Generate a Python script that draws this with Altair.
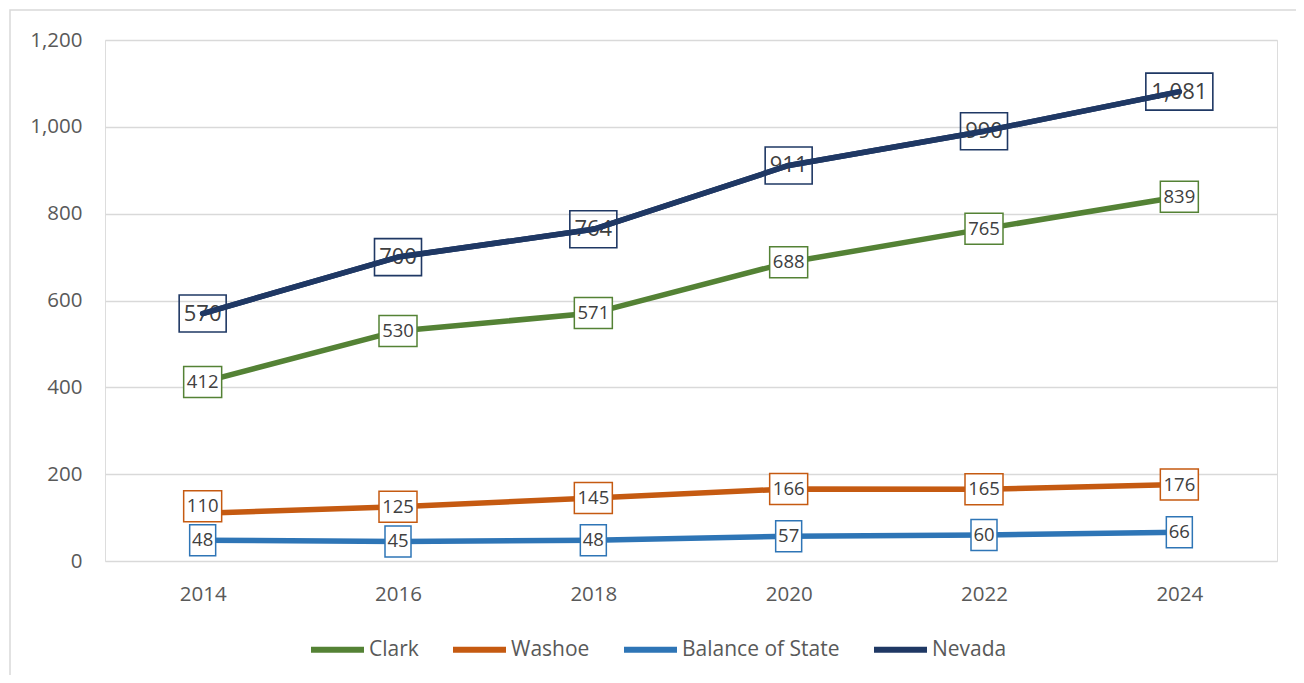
import altair as alt
import pandas as pd

years = ["2014", "2016", "2018", "2020", "2022", "2024"]
series_names = ["Clark", "Washoe", "Balance of State", "Nevada"]
clark = [412, 530, 571, 688, 765, 839]
washoe = [110, 125, 145, 166, 165, 176]
balance = [48, 45, 48, 57, 60, 66]
nevada = [570, 700, 764, 911, 990, 1081]
colors = ["#548235", "#C55A11", "#2E75B6", "#1F3864"]

rows = []
for name, vals in zip(series_names, [clark, washoe, balance, nevada]):
    for y, v in zip(years, vals):
        rows.append({"year": y, "series": name, "value": v})
df = pd.DataFrame(rows)

FONT = "Open Sans"
W, H = 1172, 521

x_enc = alt.X("year:O", scale=alt.Scale(type="point", padding=0.5),
              axis=alt.Axis(title=None, domain=False, ticks=False, labelAngle=0,
                            labelFont=FONT, labelFontSize=20.5, labelColor="#595959",
                            labelPadding=23, grid=False))
y_scale = alt.Scale(domain=[0, 1200], nice=False)
y_axis = alt.Axis(title=None, domain=False, ticks=False,
                  values=[0, 200, 400, 600, 800, 1000, 1200], format=",.0f",
                  labelFont=FONT, labelFontSize=20.5, labelColor="#595959",
                  labelPadding=23, gridColor="#D9D9D9", gridWidth=1.3)
y_enc = alt.Y("value:Q", scale=y_scale, axis=y_axis)
y_lab = alt.Y("ylab:Q", scale=y_scale, axis=y_axis)

color_scale = alt.Scale(domain=series_names, range=colors)

base = alt.Chart(df)

border = alt.Chart(pd.DataFrame({"a": [0]})).mark_rect(
    fill=None, stroke="#D9D9D9", strokeWidth=1.5
).encode(x=alt.value(-95), x2=alt.value(1240), y=alt.value(-30), y2=alt.value(700))

lines = base.mark_line(strokeWidth=5.5, strokeCap="round", strokeJoin="round").encode(
    x=x_enc, y=y_enc,
    color=alt.Color("series:N", scale=color_scale, sort=series_names,
                    legend=alt.Legend(title=None, orient="none", legendX=203, legendY=580,
                                      direction="horizontal", columns=4, columnPadding=22,
                                      symbolType="stroke", symbolSize=2809,
                                      symbolStrokeWidth=6, labelOffset=2,
                                      labelFont=FONT, labelFontSize=21,
                                      labelColor="#595959")),
    order=alt.Order("year:O"),
)

# Excel nudged the 2014 Washoe label up to clear the Balance of State label
small = base.transform_filter("datum.series != 'Nevada'").transform_calculate(
    lab="format(datum.value, ',')",
    ylab="datum.series == 'Washoe' && datum.year == '2014' ? datum.value + 16 : datum.value",
).transform_calculate(
    box="length(datum.lab) <= 2 ? 'M-13,-15.5H13V15.5H-13Z' : 'M-19,-15.5H19V15.5H-19Z'"
)

small_boxes = small.mark_point(filled=True, fill="white", strokeWidth=1.5, opacity=1, size=4).encode(
    x=x_enc, y=y_lab,
    shape=alt.Shape("box:N", scale=None),
    stroke=alt.Stroke("series:N", scale=color_scale, legend=None),
)
small_text = small.mark_text(font=FONT, fontSize=18.5, color="#404040", baseline="middle", align="center").encode(
    x=x_enc, y=y_lab, text="lab:N"
)

nev = base.transform_filter("datum.series == 'Nevada'").transform_calculate(
    lab="format(datum.value, ',')"
).transform_calculate(
    box="length(datum.lab) <= 3 ? 'M-23.5,-18.5H23.5V18.5H-23.5Z' : 'M-33.5,-18.5H33.5V18.5H-33.5Z'"
)
nev_boxes = nev.mark_point(filled=False, strokeWidth=1.6, opacity=1, size=4).encode(
    x=x_enc, y=y_enc,
    shape=alt.Shape("box:N", scale=None),
    stroke=alt.value("#1F3864"),
)
nev_text = nev.mark_text(font=FONT, fontSize=22, color="#404040", baseline="middle", align="center").encode(
    x=x_enc, y=y_enc, text="lab:N"
)
nev_line = nev.mark_line(strokeWidth=5.5, strokeCap="round", strokeJoin="round", color="#1F3864").encode(
    x=x_enc, y=y_enc, order=alt.Order("year:O")
)

chart = alt.layer(border, lines, small_boxes, small_text, nev_text, nev_boxes, nev_line).properties(
    width=W, height=H,
    autosize=alt.AutoSizeParams(type="none"),
    padding={"left": 97, "top": 32, "right": 19, "bottom": 114},
).configure_view(stroke=None).configure(background="white")

chart.save("out.html", embed_options={"renderer": "svg", "actions": False})
